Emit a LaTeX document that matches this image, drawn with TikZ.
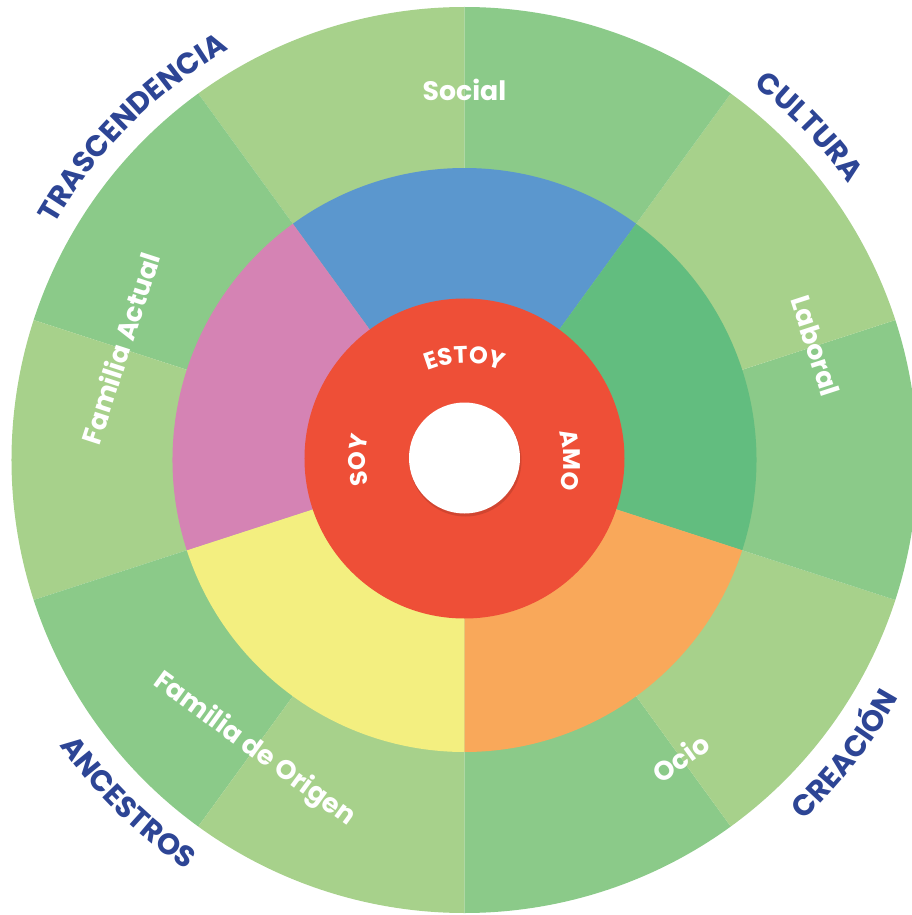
\documentclass[tikz,border=0pt]{standalone}
\usepackage{fontspec}
\setmainfont{Poppins}
\usetikzlibrary{decorations.text}
\definecolor{lightleaf}{HTML}{A7D18B}
\definecolor{darkleaf}{HTML}{8BCA89}
\definecolor{socialcolor}{HTML}{5B97CE}
\definecolor{laboralcolor}{HTML}{62BD7F}
\definecolor{ociocolor}{HTML}{F9A85A}
\definecolor{origencolor}{HTML}{F3EF80}
\definecolor{actualcolor}{HTML}{D583B4}
\definecolor{corecolor}{HTML}{EE4F37}
\definecolor{rimcolor}{HTML}{2D4595}
\newcommand\rimfont{\fontsize{21}{21}\selectfont\bfseries\color{rimcolor}}
\newcommand\corefont{\fontsize{17}{17}\selectfont\bfseries\color{white}}

\begin{document}
\begin{tikzpicture}[
    x=0.025cm, y=0.025cm,
    ring/.style={text=white, inner sep=0pt, font=\bfseries\fontsize{19}{19}\selectfont},
    rimtext/.style={decorate, decoration={text along path, text align=center, text={|\rimfont|#1}}},
    coretext/.style={decorate, decoration={text along path, text align=center, text={|\corefont|#1}}},
]
    \useasboundingbox (-464.5,-455) rectangle (447.5,460);

    % === OUTER RING (ten wedges, two greens) ===
    \foreach \a [count=\i] in {-90,-54,...,234} {
        \ifodd\i \def\c{darkleaf}\else \def\c{lightleaf}\fi
        \fill[\c] (0,0) -- (\a:453) arc[start angle=\a, end angle=\a+36, radius=453] -- cycle;
    }

    % === MIDDLE RING (five areas) ===
    \foreach \a/\c in {54/socialcolor, -18/laboralcolor, -90/ociocolor, 198/origencolor, 126/actualcolor} {
        \fill[\c] (0,0) -- (\a:292) arc[start angle=\a, end angle=\a+72, radius=292] -- cycle;
    }

    % === CORE ===
    \fill[corecolor] (0,1.5) circle[radius=160];
    \fill[black, opacity=0.12] (1,-0.5) circle[radius=56];
    \fill[white] (0,2) circle[radius=55.5];

    % core words
    \path[coretext=ESTOY] (130:97) arc[start angle=130, end angle=50, radius=97];
    \path[coretext=SOY] (220:99) arc[start angle=220, end angle=140, radius=99];
    \path[coretext=AMO] (40:99) arc[start angle=40, end angle=-40, radius=99];

    % === AREA LABELS ===
    \foreach \n/\a/\r/\t/\txt in {social/90/370/0/Social, laboral/18/369/-72/Laboral,
        ocio/-54/368/36/Ocio, origen/234/358/-36/Familia de Origen, actual/162/362/72/Familia Actual} {
        \node[ring, rotate=\t] (\n) at (\a:\r) {\txt};
    }

    % === RIM WORDS ===
    \path[rimtext=TRASCENDENCIA] (175:473) arc[start angle=175, end angle=95, radius=473];
    \path[rimtext=CULTURA] (84:473) arc[start angle=84, end angle=4, radius=473];
    \path[rimtext=CREACIÓN] (-77.7:495) arc[start angle=-77.7, end angle=2.3, radius=495];
    \path[rimtext=ANCESTROS] (185.5:495) arc[start angle=185.5, end angle=265.5, radius=495];

\end{tikzpicture}
\end{document}
